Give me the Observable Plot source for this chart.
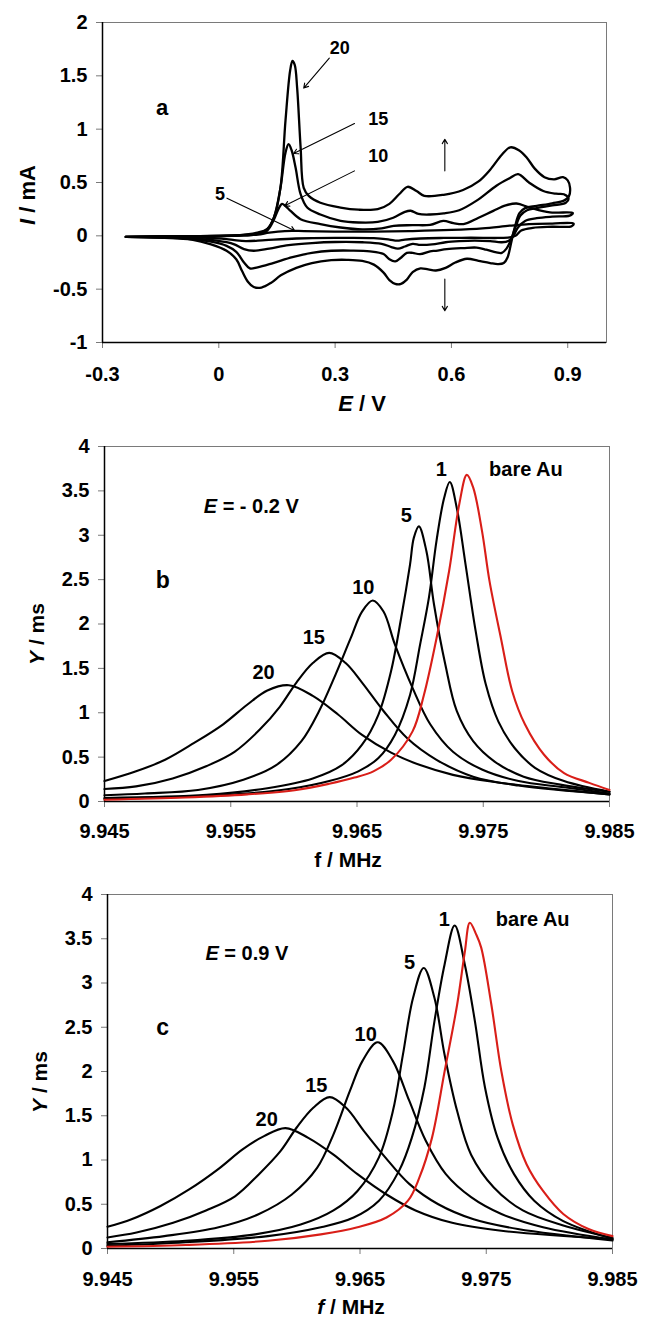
<!DOCTYPE html>
<html><head><meta charset="utf-8">
<script src="https://cdn.jsdelivr.net/npm/d3@7"></script>
<script src="https://cdn.jsdelivr.net/npm/@observablehq/plot@0.6"></script>
<style>
body{margin:0;background:#fff;}
#chart svg{display:block;}
#chart g[aria-label$="tick label"]{font-size:20px !important;font-weight:bold !important;font-family:'Liberation Sans',Arial,sans-serif !important;}
</style></head><body><div id="chart"></div>
<script>
// ---------- Panel a: cyclic voltammograms (E / V, I / mA), cycles 5,10,15,20 ----------
const cv20 = [[-0.24,-0.01],[-0.15,-0.006],[-0.05,-0.003],[0.05,0.005],[0.1,0.03],[0.125,0.065],[0.142,0.17],[0.159,0.45],[0.172,1.08],[0.184,1.55],[0.19,1.64],[0.196,1.6],[0.202,1.39],[0.211,0.83],[0.219,0.45],[0.232,0.375],[0.262,0.31],[0.314,0.265],[0.36,0.245],[0.41,0.25],[0.44,0.3],[0.465,0.39],[0.487,0.46],[0.51,0.42],[0.53,0.375],[0.58,0.385],[0.63,0.43],[0.67,0.51],[0.70,0.62],[0.73,0.76],[0.752,0.83],[0.775,0.8],[0.795,0.73],[0.815,0.63],[0.84,0.55],[0.865,0.53],[0.888,0.55],[0.9,0.52],[0.906,0.45],[0.903,0.37],
 [0.89,0.33],[0.86,0.305],[0.82,0.28],[0.79,0.26],[0.775,0.21],[0.765,0.1],[0.755,-0.05],[0.745,-0.2],[0.735,-0.255],[0.72,-0.265],[0.70,-0.255],[0.67,-0.235],[0.64,-0.215],[0.61,-0.25],[0.585,-0.3],[0.56,-0.325],[0.54,-0.315],[0.52,-0.305],[0.50,-0.34],[0.485,-0.41],[0.47,-0.45],[0.455,-0.45],[0.44,-0.415],[0.425,-0.345],[0.40,-0.27],[0.37,-0.235],[0.33,-0.225],[0.29,-0.228],[0.24,-0.255],[0.20,-0.3],[0.16,-0.37],[0.135,-0.44],[0.11,-0.485],[0.09,-0.48],[0.075,-0.43],[0.06,-0.33],[0.045,-0.22],[0.02,-0.14],[-0.02,-0.08],[-0.07,-0.035],[-0.14,-0.018],[-0.24,-0.01]];
const cv15 = [[-0.24,-0.01],[-0.1,-0.004],[0.05,0.004],[0.1,0.02],[0.125,0.06],[0.142,0.17],[0.159,0.45],[0.172,0.78],[0.18,0.86],[0.188,0.8],[0.198,0.64],[0.211,0.39],[0.228,0.265],[0.262,0.2],[0.314,0.14],[0.36,0.125],[0.41,0.13],[0.45,0.17],[0.48,0.225],[0.495,0.235],[0.515,0.205],[0.545,0.2],[0.58,0.21],[0.62,0.24],[0.665,0.33],[0.716,0.47],[0.75,0.54],[0.772,0.578],[0.80,0.5],[0.837,0.42],[0.87,0.395],[0.89,0.39],[0.902,0.35],
 [0.895,0.31],[0.86,0.285],[0.82,0.26],[0.795,0.24],[0.778,0.19],[0.765,0.08],[0.752,-0.05],[0.742,-0.12],[0.73,-0.16],[0.716,-0.156],[0.69,-0.13],[0.665,-0.11],[0.63,-0.115],[0.588,-0.125],[0.56,-0.14],[0.545,-0.145],[0.519,-0.172],[0.5,-0.16],[0.485,-0.16],[0.468,-0.21],[0.455,-0.24],[0.44,-0.22],[0.425,-0.17],[0.39,-0.145],[0.34,-0.138],[0.29,-0.14],[0.24,-0.16],[0.19,-0.2],[0.14,-0.255],[0.1,-0.295],[0.08,-0.305],[0.065,-0.25],[0.045,-0.15],[0.02,-0.094],[-0.02,-0.055],[-0.08,-0.028],[-0.15,-0.015],[-0.24,-0.01]];
const cv10 = [[-0.24,-0.01],[-0.1,-0.004],[0.05,0.003],[0.1,0.015],[0.125,0.05],[0.142,0.15],[0.155,0.26],[0.163,0.3],[0.172,0.28],[0.185,0.234],[0.211,0.156],[0.262,0.11],[0.314,0.078],[0.37,0.06],[0.42,0.07],[0.451,0.094],[0.5,0.1],[0.545,0.103],[0.579,0.14],[0.605,0.12],[0.631,0.11],[0.67,0.17],[0.708,0.234],[0.74,0.285],[0.768,0.303],[0.802,0.265],[0.854,0.219],[0.913,0.215],
 [0.905,0.19],[0.86,0.18],[0.82,0.165],[0.79,0.14],[0.772,0.08],[0.76,0.0],[0.748,-0.045],[0.73,-0.06],[0.7,-0.05],[0.66,-0.045],[0.62,-0.05],[0.585,-0.06],[0.55,-0.08],[0.52,-0.085],[0.5,-0.075],[0.48,-0.1],[0.462,-0.12],[0.445,-0.105],[0.42,-0.075],[0.37,-0.06],[0.3,-0.058],[0.24,-0.068],[0.18,-0.088],[0.13,-0.12],[0.09,-0.14],[0.065,-0.125],[0.04,-0.08],[0.02,-0.06],[-0.03,-0.035],[-0.1,-0.02],[-0.24,-0.01]];
const cv5 = [[-0.24,-0.01],[-0.1,-0.004],[0.05,0.003],[0.1,0.012],[0.13,0.03],[0.17,0.045],[0.22,0.045],[0.3,0.04],[0.4,0.04],[0.5,0.045],[0.6,0.055],[0.68,0.07],[0.75,0.095],[0.8,0.11],[0.86,0.115],[0.915,0.115],
 [0.91,0.09],[0.86,0.085],[0.81,0.075],[0.78,0.05],[0.765,0.0],[0.75,-0.015],[0.72,-0.02],[0.65,-0.018],[0.58,-0.02],[0.52,-0.025],[0.48,-0.035],[0.46,-0.045],[0.44,-0.035],[0.4,-0.022],[0.3,-0.02],[0.2,-0.025],[0.12,-0.04],[0.07,-0.05],[0.04,-0.04],[0.02,-0.03],[-0.05,-0.016],[-0.24,-0.01]];
const aXTicks = [-0.3, 0, 0.3, 0.6, 0.9];
const aYTicks = [-1, -0.5, 0, 0.5, 1, 1.5, 2];
const aLabelText = ["20", "15", "10", "5"];
const aLabelE = [0.312, 0.411, 0.411, 0.003];
const aLabelI = [1.756, 1.094, 0.747, 0.391];
// arrows: [E1, I1, E2, I2]
const aArrows = [[0.285,1.666,0.219,1.385],[0.35,1.053,0.193,0.772],[0.35,0.609,0.170,0.281],[0.021,0.353,0.196,0.047],[0.583,0.609,0.583,0.906],[0.583,-0.406,0.583,-0.703]];

// ---------- Panel b: admittance spectra at E = -0.2 V (f / MHz, Y / ms) ----------
const bBare = [[9.945,0.02],[9.9514,0.045],[9.9563,0.08],[9.9602,0.13],[9.9628,0.2],[9.9648,0.27],[9.9663,0.34],[9.9677,0.47],[9.9694,0.79],[9.9703,1.2],[9.9713,1.84],[9.9723,2.6],[9.9731,3.35],[9.9737,3.68],[9.9742,3.54],[9.9749,3.05],[9.9755,2.48],[9.9764,1.84],[9.9773,1.24],[9.9783,0.87],[9.9798,0.53],[9.9814,0.32],[9.9834,0.21],[9.985,0.13]];
const b1 = [[9.945,0.03],[9.9547,0.075],[9.9596,0.14],[9.9628,0.23],[9.9651,0.34],[9.9667,0.49],[9.968,0.75],[9.9692,1.2],[9.97,1.77],[9.9707,2.3],[9.9713,2.94],[9.9719,3.42],[9.97235,3.6],[9.9729,3.31],[9.9736,2.67],[9.9744,1.92],[9.9752,1.32],[9.9762,0.9],[9.9775,0.6],[9.9791,0.38],[9.9814,0.23],[9.985,0.11]];
const b5 = [[9.945,0.04],[9.9531,0.075],[9.9579,0.15],[9.9615,0.26],[9.9638,0.41],[9.9654,0.64],[9.9667,0.98],[9.9677,1.47],[9.9685,2.07],[9.9692,2.67],[9.9695,2.97],[9.9699,3.1],[9.9705,2.82],[9.9711,2.22],[9.972,1.54],[9.9729,1.02],[9.9742,0.68],[9.9759,0.45],[9.9782,0.28],[9.9811,0.19],[9.985,0.11]];
const b10 = [[9.945,0.07],[9.9482,0.09],[9.9524,0.13],[9.956,0.245],[9.9586,0.41],[9.9606,0.68],[9.962,1.02],[9.9633,1.43],[9.9645,1.84],[9.9654,2.14],[9.96625,2.265],[9.9671,2.14],[9.968,1.77],[9.9694,1.28],[9.9708,0.87],[9.9726,0.56],[9.9749,0.36],[9.9778,0.23],[9.9814,0.16],[9.985,0.09]];
const b15 = [[9.945,0.14],[9.9475,0.17],[9.9504,0.26],[9.9531,0.4],[9.9553,0.56],[9.9573,0.81],[9.9589,1.07],[9.9602,1.34],[9.9615,1.56],[9.9628,1.675],[9.9641,1.56],[9.9654,1.34],[9.9671,1.02],[9.969,0.71],[9.9713,0.47],[9.9742,0.28],[9.9778,0.18],[9.985,0.08]];
const b20 = [[9.945,0.23],[9.9475,0.34],[9.9498,0.47],[9.9521,0.66],[9.9544,0.87],[9.9563,1.09],[9.9579,1.25],[9.9596,1.31],[9.9615,1.19],[9.9635,0.98],[9.9654,0.75],[9.9677,0.55],[9.97,0.41],[9.9726,0.3],[9.9759,0.22],[9.9801,0.15],[9.985,0.08]];
const bLabelText = ["1", "bare Au", "5", "10", "15", "20"];
const bLabelF = [9.97167, 9.97838, 9.9689, 9.9655, 9.96158, 9.9576];
const bLabelY = [3.74, 3.74, 3.22, 2.41, 1.85, 1.457];

// ---------- Panel c: admittance spectra at E = 0.9 V ----------
const cBare = [[9.945,0.02],[9.9512,0.04],[9.9577,0.087],[9.9619,0.16],[9.9648,0.24],[9.9671,0.35],[9.9688,0.54],[9.9697,0.8],[9.9707,1.25],[9.9717,2.0],[9.9727,2.76],[9.9733,3.35],[9.9737,3.68],[9.9742,3.55],[9.9746,3.4],[9.9754,2.76],[9.9762,2.0],[9.9771,1.4],[9.9782,0.95],[9.9795,0.65],[9.9811,0.39],[9.9831,0.22],[9.985,0.14]];
const c1 = [[9.945,0.03],[9.9512,0.07],[9.9577,0.14],[9.9619,0.24],[9.9645,0.35],[9.9665,0.54],[9.9681,0.88],[9.9691,1.25],[9.9701,1.82],[9.9709,2.57],[9.9717,3.21],[9.9725,3.65],[9.9733,3.21],[9.9741,2.57],[9.9749,1.82],[9.9759,1.25],[9.9772,0.84],[9.9788,0.54],[9.9811,0.31],[9.985,0.11]];
const c5 = [[9.945,0.05],[9.9512,0.087],[9.9567,0.16],[9.9603,0.27],[9.9629,0.43],[9.9648,0.65],[9.9665,1.03],[9.9676,1.55],[9.9684,2.19],[9.9692,2.83],[9.97005,3.17],[9.9709,2.83],[9.9717,2.19],[9.9727,1.55],[9.9738,1.06],[9.9756,0.69],[9.9779,0.43],[9.9811,0.26],[9.985,0.12]];
const c10 = [[9.945,0.07],[9.9495,0.14],[9.9538,0.24],[9.957,0.39],[9.9596,0.61],[9.9616,0.91],[9.9629,1.29],[9.9642,1.78],[9.9652,2.12],[9.9664,2.33],[9.9676,2.12],[9.9689,1.67],[9.9702,1.22],[9.9718,0.84],[9.9738,0.58],[9.9762,0.39],[9.9795,0.24],[9.985,0.1]];
const c15 = [[9.945,0.125],[9.9473,0.18],[9.9502,0.29],[9.9528,0.43],[9.9551,0.59],[9.957,0.84],[9.9587,1.1],[9.96,1.37],[9.9613,1.59],[9.9626,1.71],[9.9639,1.59],[9.9653,1.33],[9.967,1.03],[9.9689,0.73],[9.9712,0.5],[9.974,0.33],[9.9775,0.22],[9.985,0.09]];
const c20 = [[9.945,0.245],[9.9469,0.33],[9.9492,0.48],[9.9515,0.67],[9.9538,0.9],[9.9557,1.12],[9.9574,1.27],[9.9591,1.36],[9.9609,1.25],[9.9629,1.06],[9.9648,0.84],[9.9671,0.61],[9.9694,0.43],[9.9723,0.29],[9.9762,0.2],[9.985,0.105]];
const cLabelText = ["1", "bare Au", "5", "10", "15", "20"];
const cLabelF = [9.97167, 9.97868, 9.96893, 9.96545, 9.96154, 9.95761];
const cLabelY = [3.72, 3.72, 3.23, 2.42, 1.84, 1.46];

const fTicks = [9.945, 9.955, 9.965, 9.975, 9.985];
const yTicksBC = [0, 0.5, 1, 1.5, 2, 2.5, 3, 3.5, 4];

// ---------- drawing ----------
const W = 645;
const FONT = "'Liberation Sans', Arial, Helvetica, sans-serif";
const root = document.getElementById("chart");
const GRAY = "#7a7a7a";
const RED = "#d91e18";
const plain = d => String(d);
const fmt3 = d3.format(".3f");
const STYLE = {fontFamily: FONT, fontWeight: "bold", fontSize: "20px", background: "white", color: "black"};

function rich(svg, x, y, parts, {size = 20, anchor = "start", rotate = false} = {}) {
  const t = d3.select(svg).append("text")
    .attr("font-family", FONT).attr("font-weight", "bold").attr("font-size", size)
    .attr("text-anchor", anchor).attr("dy", "0.35em").attr("fill", "black");
  if (rotate) t.attr("transform", `translate(${x},${y}) rotate(-90)`);
  else t.attr("x", x).attr("y", y);
  for (const [s, it] of parts) t.append("tspan").attr("font-style", it ? "italic" : "normal").text(s);
}

function axes(xTicks, xFmt, yTicks, xPad) {
  return [
    Plot.frame({stroke: GRAY, strokeWidth: 1}),
    Plot.axisY({ticks: yTicks, tickSize: 6, stroke: GRAY, tickFormat: () => "", label: null}),
    Plot.axisY({ticks: yTicks, tickSize: 0, tickPadding: 15, tickFormat: plain, fontSize: 20, fontWeight: "bold", label: null}),
    Plot.axisX({ticks: xTicks, tickSize: 6, stroke: GRAY, tickFormat: () => "", label: null}),
    Plot.axisX({ticks: xTicks, tickSize: 0, tickPadding: xPad, tickFormat: xFmt, fontSize: 20, fontWeight: "bold", label: null})
  ];
}

// Panel a
const pa = Plot.plot({
  width: W, height: 425,
  marginTop: 22, marginBottom: 83, marginLeft: 102, marginRight: 39,
  x: {domain: [-0.3, 1.0]}, y: {domain: [-1, 2]},
  style: STYLE,
  marks: [
    ...axes(aXTicks, plain, aYTicks, 24),
    Plot.ruleX([-0.3], {stroke: "black", strokeWidth: 1.5}),
    Plot.ruleY([-1], {stroke: "black", strokeWidth: 1.5}),
    ...[cv5, cv10, cv15, cv20].map(c => Plot.line(c, {x: d => d[0], y: d => d[1], curve: "catmull-rom", stroke: "black", strokeWidth: 2.3})),
    Plot.arrow(aArrows, {x1: d => d[0], y1: d => d[1], x2: d => d[2], y2: d => d[3], stroke: "black", strokeWidth: 1.1, headLength: 7}),
    Plot.text(aLabelText, {x: (d, i) => aLabelE[i], y: (d, i) => aLabelI[i], text: d => d, fontSize: 18, fontWeight: "bold"}),
    Plot.text(["a"], {x: [-0.146], y: [1.203], text: d => d, fontSize: 22, fontWeight: "bold"})
  ]
});
rich(pa, 27, 195, [["I", true], [" / mA", false]], {size: 22, anchor: "middle", rotate: true});
rich(pa, 362, 403, [["E", true], [" / V", false]], {size: 22, anchor: "middle"});
root.appendChild(pa);

function admPanel(curves, red, labelsT, labelsF, labelsY, letter, letterF, eText, eF, eY, fItalic, m, xPad, h, yTitle, xTitle) {
  const p = Plot.plot({
    width: W, height: h,
    marginTop: m[0], marginRight: m[1], marginBottom: m[2], marginLeft: m[3],
    x: {domain: [9.945, 9.985]}, y: {domain: [0, 4]},
    style: STYLE,
    marks: [
      ...axes(fTicks, fmt3, yTicksBC, xPad),
      Plot.ruleX([9.945], {stroke: "black", strokeWidth: 1.5}),
      Plot.ruleY([0], {stroke: "black", strokeWidth: 1.5}),
      ...curves.map(c => Plot.line(c, {x: d => d[0], y: d => d[1], curve: "catmull-rom", stroke: "black", strokeWidth: 2.1})),
      Plot.line(red, {x: d => d[0], y: d => d[1], curve: "catmull-rom", stroke: RED, strokeWidth: 2.1}),
      Plot.text(labelsT, {x: (d, i) => labelsF[i], y: (d, i) => labelsY[i], text: d => d, fontSize: 20, fontWeight: "bold"}),
      Plot.text([letter], {x: [letterF[0]], y: [letterF[1]], text: d => d, fontSize: 23, fontWeight: "bold"})
    ]
  });
  const sx = p.scale("x"), sy = p.scale("y");
  rich(p, sx.apply(eF), sy.apply(eY), [["E", true], eText]);
  rich(p, yTitle[0], yTitle[1], [["Y", true], [" / ms", false]], {size: 21, anchor: "middle", rotate: true});
  rich(p, xTitle[0], xTitle[1], [["f", fItalic], [" / MHz", false]], {size: 21, anchor: "middle"});
  return p;
}

root.appendChild(admPanel([b20, b15, b10, b5, b1], bBare, bLabelText, bLabelF, bLabelY,
  "b", [9.94961, 2.49], [" = - 0.2 V", false], 9.9529, 3.32, false,
  [21, 36, 69, 104], 22, 445, [37, 209], [348, 435]));
root.appendChild(admPanel([c20, c15, c10, c5, c1], cBare, cLabelText, cLabelF, cLabelY,
  "c", [9.94936, 2.50], [" = 0.9 V", false], 9.9528, 3.33, true,
  [24, 33, 69, 107], 23, 447, [40, 212], [351, 437]));
</script></body></html>
